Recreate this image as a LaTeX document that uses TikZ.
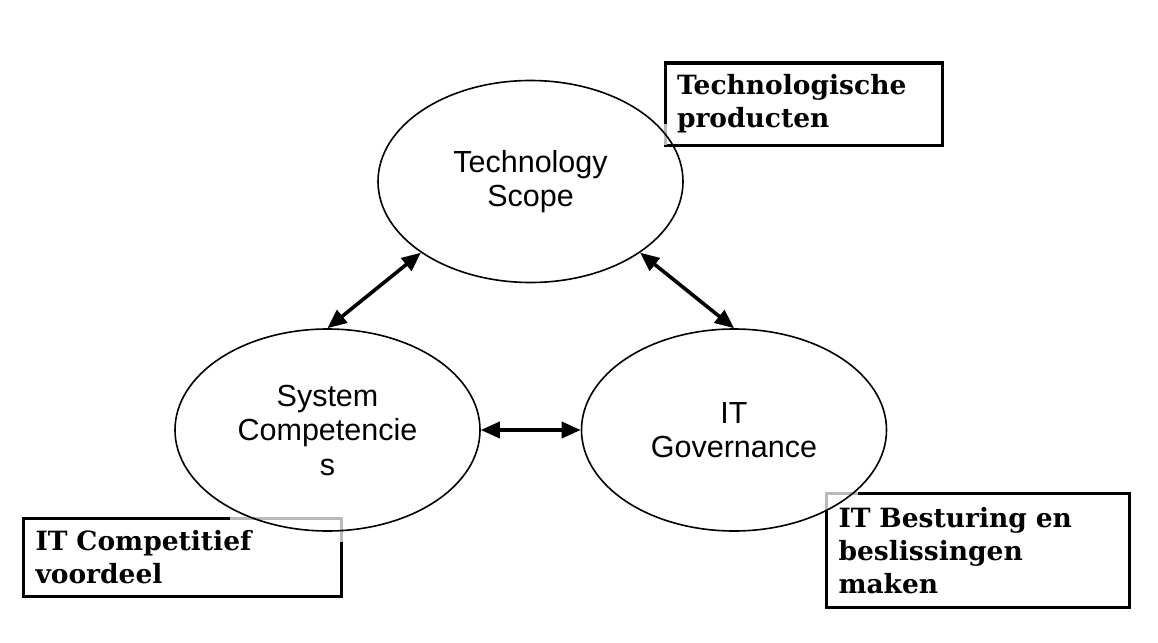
\documentclass[tikz,border=0pt]{standalone}
\usepackage{fontspec}
\newfontfamily\arialfont{Liberation Sans}
\newfontfamily\kaderfont{DejaVu Serif}
\usetikzlibrary{arrows.meta,shapes.geometric}

\begin{document}
\begin{tikzpicture}[
    x=1pt,y=-1pt,
    >={Triangle[length=19pt,width=16pt]},
    domein node/.style={ellipse,draw,line width=1.6pt,minimum width=305pt,minimum height=202pt,inner sep=0pt,align=center,font=\arialfont\fontsize{30.5}{34.5}\selectfont},
    label box/.style={draw,line width=3pt,outer sep=0pt,anchor=north west,inner xsep=12pt,inner ysep=0pt,align=left,font=\kaderfont\bfseries\fontsize{26.5}{33}\selectfont},
    relatie pijl/.style={<->,line width=3.6pt},
    grijze rand/.style={gray!55,line width=3pt}
]

\useasboundingbox (0,0) rectangle (1158,642);

% Kaders met toelichting
\node[label box,minimum height=82pt,text width=253pt] (producten) at (665,63) {Technologische\\producten};
\node[label box,minimum height=78pt,text width=294pt] (voordeel) at (23.5,518.5) {IT Competitief\\voordeel};
\node[label box,minimum height=114pt,text width=279pt] (besturing) at (826.5,493.5) {IT Besturing en\\beslissingen\\maken};

% Grijze stukken van de kaderranden
\draw[grijze rand] (665,124) -- (producten.south west);
\draw[grijze rand] (230,518.5) -- (voordeel.north east) -- (341.5,542);
\draw[grijze rand] (826.5,511) -- (besturing.north west) -- (858,493.5);

% Domeinen
\node[domein node] (scope) at (530.5,181.5) {Technology\\Scope};
\node[domein node] (competenties) at (327.5,430) {System\\Competencie\\s};
\node[domein node] (governance) at (734,430) {IT\\Governance};

% Relaties
\draw[relatie pijl] (competenties.north) -- (scope.213);
\draw[relatie pijl] (governance.north) -- (scope.327);
\draw[relatie pijl] (competenties.east) -- (governance.west);

\end{tikzpicture}
\end{document}
